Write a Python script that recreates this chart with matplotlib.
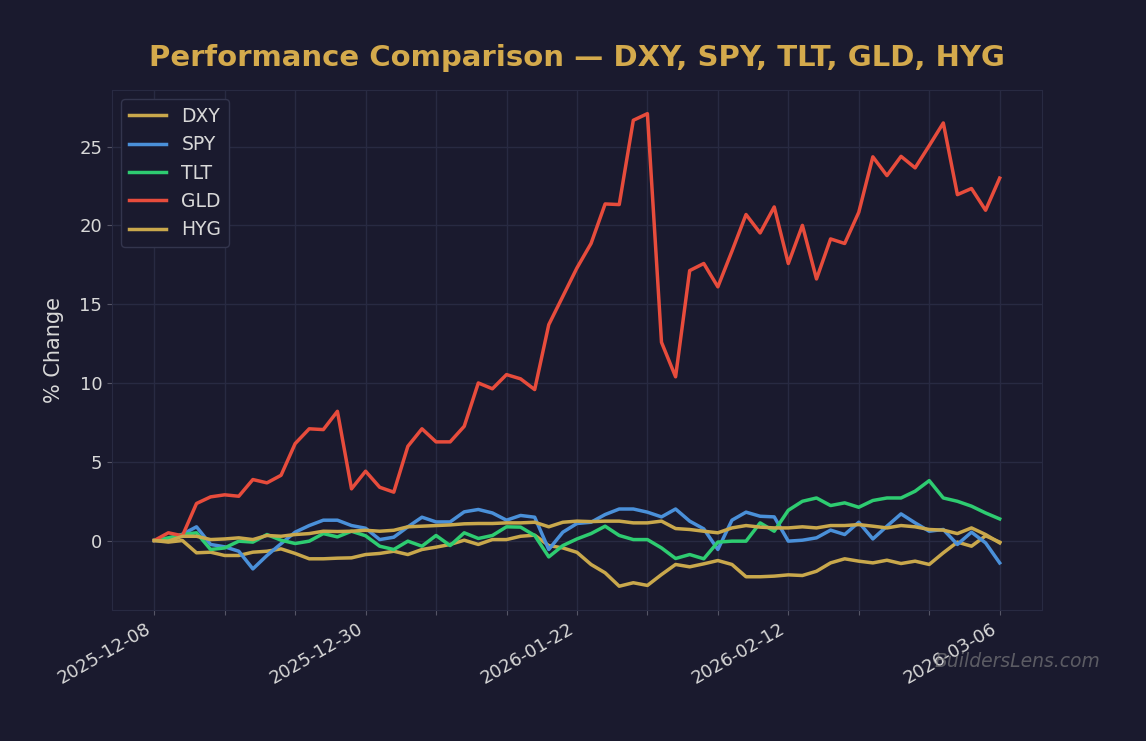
import numpy as np
import matplotlib
matplotlib.use("Agg")
import matplotlib.pyplot as plt

# trading days, labels every 15th point
dates = ["2025-12-08", "2025-12-30", "2026-01-22", "2026-02-12", "2026-03-06"]

dxy = [0, -0.1, 0.0, -0.78, -0.74, -0.95, -0.95, -0.74, -0.68, -0.53,
       -0.82, -1.16, -1.16, -1.12, -1.1, -0.89, -0.82, -0.68, -0.89, -0.57,
       -0.42, -0.25, 0.02, -0.25, 0.06, 0.06, 0.27, 0.34, -0.32, -0.47,
       -0.75, -1.52, -2.05, -2.9, -2.68, -2.85, -2.16, -1.52, -1.67, -1.48,
       -1.27, -1.52, -2.3, -2.3, -2.26, -2.18, -2.22, -1.95, -1.42, -1.16,
       -1.31, -1.42, -1.25, -1.46, -1.31, -1.52, -0.78, -0.1, -0.36, 0.3,
       -0.1]
spy = [0, 0.05, 0.4, 0.87, -0.25, -0.4, -0.68, -1.8, -0.95, -0.2,
       0.53, 0.95, 1.29, 1.29, 0.95, 0.78, 0.06, 0.21, 0.87, 1.48,
       1.18, 1.18, 1.82, 1.97, 1.75, 1.29, 1.59, 1.48, -0.57, 0.53,
       1.08, 1.16, 1.65, 2.0, 2.0, 1.8, 1.5, 2.0, 1.23, 0.74,
       -0.57, 1.29, 1.8, 1.54, 1.5, -0.04, 0.02, 0.17, 0.66, 0.38,
       1.16, 0.1, 0.91, 1.69, 1.12, 0.59, 0.7, -0.25, 0.53, -0.15,
       -1.42]
tlt = [0, 0.17, 0.38, 0.49, -0.57, -0.47, -0.04, -0.1, 0.38, 0.02,
       -0.19, -0.04, 0.44, 0.23, 0.59, 0.3, -0.36, -0.57, -0.04, -0.36,
       0.32, -0.32, 0.49, 0.13, 0.32, 0.87, 0.85, 0.32, -1.04, -0.32,
       0.1, 0.44, 0.91, 0.32, 0.06, 0.06, -0.47, -1.14, -0.89, -1.16,
       -0.1, -0.04, -0.04, 1.12, 0.59, 1.92, 2.49, 2.7, 2.22, 2.39,
       2.11, 2.54, 2.7, 2.7, 3.13, 3.8, 2.7, 2.49, 2.18, 1.75,
       1.37]
gld = [0, 0.49, 0.3, 2.35, 2.77, 2.9, 2.81, 3.87, 3.66, 4.14,
       6.15, 7.09, 7.04, 8.2, 3.28, 4.4, 3.38, 3.07, 5.98, 7.09,
       6.26, 6.26, 7.25, 10.0, 9.63, 10.53, 10.26, 9.58, 13.7, 15.5,
       17.3, 18.85, 21.36, 21.32, 26.67, 27.09, 12.58, 10.39, 17.13, 17.58,
       16.1, 18.36, 20.69, 19.52, 21.17, 17.58, 20.0, 16.6, 19.14, 18.85,
       20.83, 24.35, 23.16, 24.38, 23.65, 25.06, 26.5, 21.95, 22.34, 20.96,
       23.0]
hyg = [0, -0.04, 0.27, 0.27, 0.06, 0.1, 0.17, 0.06, 0.32, 0.27,
       0.38, 0.44, 0.59, 0.57, 0.59, 0.65, 0.59, 0.65, 0.87, 0.91,
       0.95, 0.99, 1.06, 1.08, 1.08, 1.12, 1.12, 1.16, 0.87, 1.16,
       1.23, 1.2, 1.23, 1.23, 1.12, 1.12, 1.23, 0.76, 0.7, 0.59,
       0.49, 0.8, 0.95, 0.85, 0.8, 0.8, 0.87, 0.8, 0.95, 0.95,
       1.01, 0.91, 0.8, 0.95, 0.87, 0.7, 0.66, 0.44, 0.8, 0.38,
       -0.15]

series = {"DXY": dxy, "SPY": spy, "TLT": tlt, "GLD": gld, "HYG": hyg}
colors = {"DXY": "#c9a84c", "SPY": "#4a90d9", "TLT": "#2ecc71",
          "GLD": "#e74c3c", "HYG": "#c9a84c"}

bg = "#1a1a2e"
fig = plt.figure(figsize=(11.46, 7.41), dpi=100, facecolor=bg)
ax = fig.add_axes([0.0977, 0.177, 0.8115, 0.7015], facecolor=bg)

x = np.arange(len(gld))
for name, vals in series.items():
    ax.plot(x, vals, color=colors[name], lw=2.5, label=name)

ticks = np.arange(0, len(gld), 5)
ax.set_xticks(ticks)
ax.set_xticklabels([dates[t // 15] if t % 15 == 0 else "" for t in ticks],
                   rotation=30, ha="right", fontsize=13, color="#d8d8d8")
ax.tick_params(axis="y", labelsize=13, labelcolor="#d8d8d8", color="#555566")
ax.tick_params(axis="x", color="#555566")
ax.grid(True, color="#282a42", lw=1)
ax.set_axisbelow(True)
for s in ax.spines.values():
    s.set_color("#282a42")

ax.set_ylabel("% Change", fontsize=15, color="#d8d8d8", labelpad=11)
ax.set_title("Performance Comparison — DXY, SPY, TLT, GLD, HYG",
             fontsize=21, fontweight="bold", color="#d4aa4c", pad=17)

leg = ax.legend(loc="upper left", fontsize=13.5, facecolor=bg,
                edgecolor="#33354d", labelcolor="#d8d8d8", framealpha=1)

fig.text(0.96, 0.107, "BuildersLens.com", ha="right", va="center",
         fontsize=13.5, style="italic", color="#888888", alpha=0.6)

fig.savefig("out.png", dpi=100, facecolor=bg)
